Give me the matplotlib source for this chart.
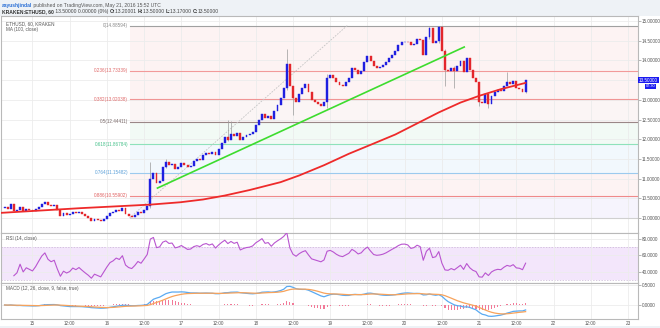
import numpy as np
import pandas as pd
import matplotlib
matplotlib.use("Agg")
import matplotlib.pyplot as plt
from matplotlib.patches import Rectangle

plt.rcParams["font.family"] = ["Liberation Sans", "DejaVu Sans"]

# hourly ETHUSD candles, Kraken; hour 0 = May 15 00:00 UTC
first_open = 10.25
closes_may14 = [10.29, 10.22, 10.36, 10.18, 10.20, 10.27, 10.18, 10.22, 10.20]
closes_may15 = [10.18, 10.22, 10.28, 10.35, 10.40, 10.33, 10.30, 10.32, 10.20, 10.05, 10.12, 10.08,
                10.10, 10.15, 10.12, 10.15, 10.10, 10.05, 10.00, 9.93, 9.98, 9.95, 9.92, 9.98]
closes_may16 = [10.05, 10.12, 10.15, 10.20, 10.18, 10.25, 10.10, 10.05, 10.03, 10.08, 10.15, 10.12,
                10.20, 10.30, 11.00, 11.15, 10.90, 10.95, 11.30, 11.42, 11.35, 11.38, 11.25, 11.30]
closes_may17 = [11.40, 11.35, 11.30, 11.32, 11.45, 11.50, 11.48, 11.60, 11.65, 11.62, 11.68, 11.60,
                11.75, 11.90, 12.05, 11.98, 12.12, 12.08, 12.15, 11.98, 12.05, 12.10, 12.12, 12.18]
closes_may18 = [12.35, 12.48, 12.65, 12.55, 12.60, 12.52, 12.72, 12.88, 13.05, 13.30, 13.90, 13.35,
                13.05, 12.95, 13.15, 13.30, 13.40, 13.20, 13.00, 12.95, 12.90, 12.85, 12.95, 13.55]
closes_may19 = [13.62, 13.55, 13.45, 13.38, 13.35, 13.45, 13.55, 13.82, 13.75, 13.65, 13.72, 13.95,
                14.12, 13.98, 13.85, 13.82, 13.84, 13.88, 13.95, 14.05, 14.15, 14.25, 14.38, 14.47]
closes_may20 = [14.48, 14.46, 14.38, 14.42, 14.55, 14.52, 14.15, 14.60, 14.82, 14.45, 14.50, 14.85,
                14.25, 13.75, 13.72, 13.82, 13.72, 13.85, 13.98, 13.70, 14.05, 13.75, 13.55, 13.45]
closes_may21 = [12.95, 12.92, 13.15, 12.90, 13.10, 13.20, 13.25, 13.22, 13.35, 13.45, 13.40, 13.48,
                13.30, 13.28, 13.20, 13.50]

# candles with visible shadows
wick_hours = [38, 43, 63, 64, 82, 84, 95, 128, 131, 133, 136, 144, 147, 153, 159]
wick_highs = [11.43, 11.50, 12.48, 12.45, 14.30, 13.35, 13.65, 14.86, 14.886, 14.30, 13.85, 13.45, 13.15, 13.70, 13.50]
wick_lows = [10.25, 11.28, 11.95, 12.05, 13.25, 12.62, 12.80, 14.55, 14.45, 13.35, 13.30, 12.85, 12.80, 13.38, 13.17]

# MA(100) as plotted
ma_hours = [-10.3, 2.6, 15.5, 28, 38, 47.7, 55, 62, 70, 80, 86, 94, 102, 110, 117, 124, 131,
            138, 144, 151, 159]
ma_values = [10.13, 10.19, 10.25, 10.30, 10.34, 10.40, 10.47, 10.57, 10.71, 10.91, 11.08, 11.34,
             11.63, 11.89, 12.12, 12.40, 12.68, 12.93, 13.10, 13.27, 13.43]

# fib retracement drawn from the May 16 low to the May 20 high
fib_levels = ["0", "0.236", "0.382", "0.5", "0.618", "0.764", "0.886", "1"]
fib_prices = [14.88594, 13.73339, 13.02038, 12.44411, 11.86784, 11.15482, 10.55902, 10.00228]
fib_start_hour = 31.3
fib_end_hour = 101.5

# hand-drawn support line
trend_hours = [40.3, 139.2]
trend_prices = [10.76, 14.34]

day_labels = ["15", "16", "17", "18", "19", "20", "21", "22", "23"]
countdown = "07:30"

closes = (closes_may14 + closes_may15 + closes_may16 + closes_may17 + closes_may18
          + closes_may19 + closes_may20 + closes_may21)
hours = np.arange(-9, -9 + len(closes))
closes = np.array(closes)
opens = np.concatenate([[first_open], closes[:-1]])

# indicators
s = pd.Series(closes)
d = s.diff().fillna(0)
gain = d.clip(lower=0).ewm(alpha=1 / 14, adjust=True).mean()
loss = (-d.clip(upper=0)).ewm(alpha=1 / 14, adjust=True).mean()
rsi = (100 - 100 / (1 + gain / loss)).values
macd = (s.ewm(span=12, adjust=False).mean() - s.ewm(span=26, adjust=False).mean()).values
signal = pd.Series(macd).ewm(span=9, adjust=False).mean().values
hist = macd - signal

W, H = 660, 328
fig = plt.figure(figsize=(6.6, 3.28), dpi=100)
fig.patch.set_facecolor("white")


def px_axes(x0, y0, x1, y1):
    return fig.add_axes([x0 / W, 1 - y1 / H, (x1 - x0) / W, (y1 - y0) / H])


def fx(x):
    return x / W


def fy(y):
    return 1 - y / H


# page header band
fig.patches.append(Rectangle((0, fy(15.5)), 1, 15.5 / H, transform=fig.transFigure,
                             facecolor="#eef2f6", edgecolor="none", zorder=-5))
fig.patches.append(Rectangle((0, 0), 1, 2.5 / H, transform=fig.transFigure,
                             facecolor="#eef2f6", edgecolor="none", zorder=-5))

renderer = fig.canvas.get_renderer()


def text_run(x, y, parts, size=3.6):
    for txt, color, weight in parts:
        t = fig.text(fx(x), fy(y), txt, color=color, fontsize=size, fontweight=weight,
                     ha="left", va="center")
        x += t.get_window_extent(renderer=renderer).width


text_run(2, 5, [("aayushjindal", "#2a6fd6", "bold"),
                (" published on TradingView.com, May 21, 2016 15:52 UTC", "#555555", "normal")])
text_run(2, 11.2, [("KRAKEN:ETHUSD, 60", "#333333", "bold"),
                   (" 13.50000 0.00000 (0%) ", "#444444", "normal"),
                   ("O:", "#333333", "bold"), ("13.20001 ", "#444444", "normal"),
                   ("H:", "#333333", "bold"), ("13.50000 ", "#444444", "normal"),
                   ("L:", "#333333", "bold"), ("13.17000 ", "#444444", "normal"),
                   ("C:", "#333333", "bold"), ("13.50000", "#444444", "normal")])

x_left = -32 / 3.104
x_right = (637.7 - 32) / 3.104
tick_hours = np.arange(0, 193, 12)
grid_col = "#ececec"
frame_col = "#b9b9b9"
label_size = 3.3

ax = px_axes(0.5, 15.5, 637.7, 232.7)
ax_rsi = px_axes(0.5, 232.7, 637.7, 283)
ax_macd = px_axes(0.5, 283, 637.7, 319)

for a in (ax, ax_rsi, ax_macd):
    a.set_xlim(x_left, x_right)
    a.set_xticks(tick_hours)
    a.xaxis.grid(True, color=grid_col, lw=0.6, zorder=0)
    a.tick_params(axis="x", length=0, labelbottom=False)
    a.yaxis.tick_right()
    a.tick_params(axis="y", length=2, width=0.5, color="#999999", labelsize=label_size,
                  labelcolor="#555555", pad=1.2)
    for sp in a.spines.values():
        sp.set_color(frame_col)
        sp.set_linewidth(0.8)
    a.set_axisbelow(True)

# main price panel; the last-price tag sits over the 13.5 scale label
price_ticks = np.arange(10.0, 15.01, 0.5)
ax.set_ylim(9.627, 15.14)
ax.set_yticks(price_ticks)
ax.set_yticklabels(["" if abs(v - closes[-1]) < 0.01 else f"{v:.5f}" for v in price_ticks])
ax.yaxis.grid(True, color=grid_col, lw=0.6, zorder=0)

zone_colors = ["#fdf3f3", "#fdf3f3", "#fbf5f5", "#f2faf5", "#f2f8fd", "#fdf3f3", "#f6f4fd"]
line_colors = ["#a0a0a0", "#f29a9a", "#f09595", "#9a8787", "#8fe2bb", "#9ccaee", "#ef8a8a", "#d0d0d0"]
label_colors = ["#8a8a8a", "#e06a6a", "#e06a6a", "#7a6a6a", "#45c08a", "#5a9fd8", "#e06060", "#a0a0a0"]
for i in range(len(fib_prices) - 1):
    ax.fill_between([fib_start_hour, x_right], fib_prices[i + 1], fib_prices[i],
                    color=zone_colors[i], lw=0, zorder=0.2)
for i, (lvl, p) in enumerate(zip(fib_levels, fib_prices)):
    ax.plot([fib_start_hour, x_right], [p, p], color=line_colors[i], lw=0.8, zorder=1)
    if lvl != "1":
        ax.text(fib_start_hour - 0.4, p, f"{lvl}({p:.5f})", color=label_colors[i],
                fontsize=label_size, ha="right", va="center", zorder=5)
ax.plot([fib_start_hour, fib_end_hour], [fib_prices[-1], fib_prices[0]],
        color="#c4c4c4", lw=0.6, ls=(0, (2, 1.5)), zorder=1.5)

# candles
up = closes >= opens
body_lo = np.minimum(opens, closes)
body_h = np.abs(closes - opens)
ax.vlines(wick_hours, wick_lows, wick_highs, color="#9a9a9a", lw=0.5, zorder=2)
ax.bar(hours[up], body_h[up], bottom=body_lo[up], width=0.62, color="#1f1fe0",
       edgecolor="#1f1fe0", lw=0.3, zorder=3)
ax.bar(hours[~up], body_h[~up], bottom=body_lo[~up], width=0.62, color="#e3262b",
       edgecolor="#e3262b", lw=0.3, zorder=3)

ax.plot(ma_hours, ma_values, color="#ee2a2a", lw=1.3, zorder=4, solid_capstyle="round",
        solid_joinstyle="round")
ax.plot(trend_hours, trend_prices, color="#3ddc2e", lw=1.2, zorder=4)

ax.text(0.008, 0.975, "ETHUSD, 60, KRAKEN", transform=ax.transAxes, fontsize=label_size,
        color="#555555", ha="left", va="top")
ax.text(0.008, 0.945, "MA (100, close)", transform=ax.transAxes, fontsize=label_size,
        color="#555555", ha="left", va="top")

# last price tag and bar countdown on the scale
ax.text(1.002, closes[-1], f"{closes[-1]:.5f}", transform=ax.get_yaxis_transform(),
        fontsize=label_size, color="white", ha="left", va="center", zorder=10,
        bbox=dict(boxstyle="square,pad=0.12", fc="#1b1bf0", ec="none"))
ax.text(1.02, closes[-1] - 0.16, countdown, transform=ax.get_yaxis_transform(),
        fontsize=label_size * 0.85, color="white", ha="center", va="center", zorder=10,
        bbox=dict(boxstyle="square,pad=0.1", fc="#1b1bf0", ec="none"))

# RSI panel
ax_rsi.set_ylim(26.2, 87.7)
ax_rsi.set_yticks([40, 60, 80])
ax_rsi.set_yticklabels(["40.0000", "60.0000", "80.0000"])
ax_rsi.yaxis.grid(True, color=grid_col, lw=0.6)
ax_rsi.axhspan(30, 70, color="#f3e6fb", lw=0, zorder=0.2)
for lvl in (30, 70):
    ax_rsi.axhline(lvl, color="#c8b4d4", lw=0.5, ls=(0, (2, 2)), zorder=0.5)
ax_rsi.plot(hours[3:], rsi[3:], color="#b955d0", lw=0.8, zorder=3)
ax_rsi.text(0.008, 0.93, "RSI (14, close)", transform=ax_rsi.transAxes, fontsize=label_size,
            color="#555555", ha="left", va="top")

# MACD panel
ax_macd.set_ylim(-0.35, 0.55)
ax_macd.set_yticks([0.0, 0.5])
ax_macd.set_yticklabels(["0.0000", "0.5000"])
ax_macd.yaxis.grid(True, color=grid_col, lw=0.6)
ax_macd.bar(hours, hist, width=0.35, color="#f27a98", lw=0, zorder=2)
ax_macd.plot(hours, macd, color="#5aaaf2", lw=0.9, zorder=3)
ax_macd.plot(hours, signal, color="#f7a35c", lw=0.9, zorder=3)
ax_macd.text(0.008, 0.93, "MACD (12, 26, close, 9, false, true)", transform=ax_macd.transAxes,
             fontsize=label_size, color="#555555", ha="left", va="top")

# time scale
ax_macd.tick_params(axis="x", labelbottom=True, labelsize=label_size, labelcolor="#555555", pad=1.5)
ax_macd.set_xticklabels([day_labels[i // 2] if i % 2 == 0 else "12:00" for i in range(len(tick_hours))])

fig.savefig("out.png", dpi=100)
